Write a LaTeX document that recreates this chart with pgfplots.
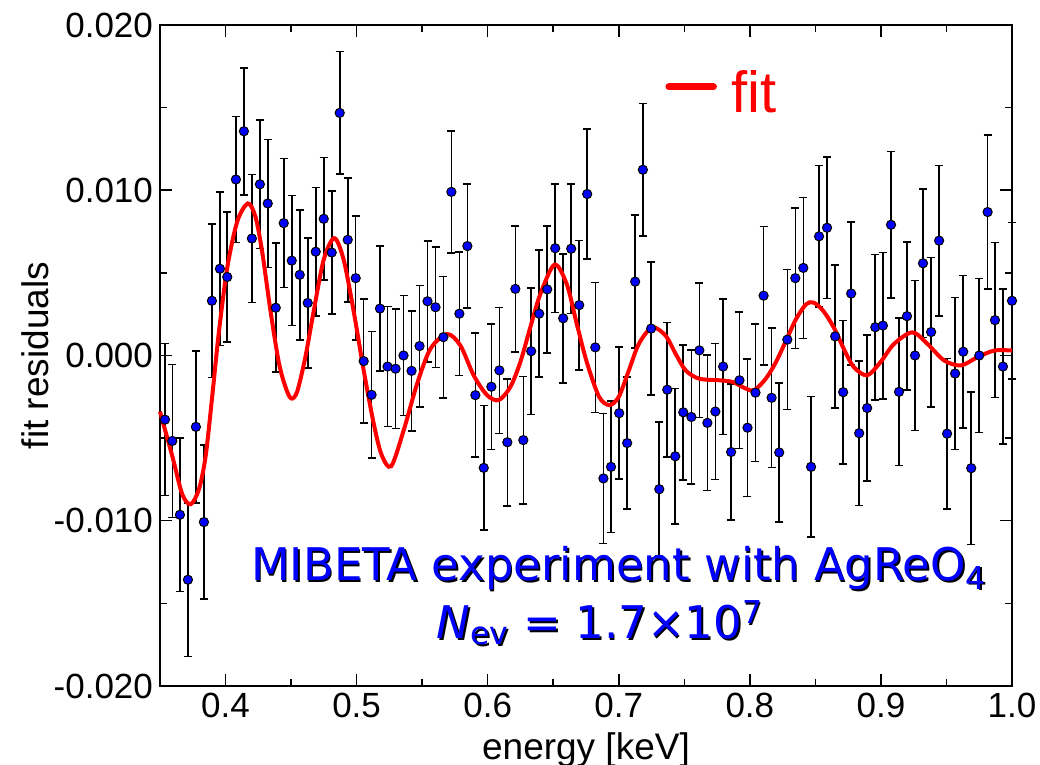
\documentclass[border=0pt]{standalone}
\usepackage{pgfplots}
\pgfplotsset{compat=1.18}
\usepackage{pgfplotstable}
\usepackage{fontspec}
\setmainfont{Liberation Sans}
\newfontfamily\dejavu{DejaVu Sans}

% residuals: energy, residual, error
\pgfplotstableread{
x y e
0.3538 -0.00388 0.00460
0.3594 -0.00517 0.00463
0.3652 -0.00964 0.00463
0.3713 -0.01357 0.00465
0.3774 -0.00432 0.00461
0.3835 -0.01008 0.00466
0.3896 0.00331 0.00463
0.3957 0.00525 0.00465
0.4013 0.00475 0.00394
0.4079 0.01065 0.00381
0.4140 0.01357 0.00384
0.4201 0.00708 0.00388
0.4262 0.01036 0.00388
0.4322 0.00920 0.00388
0.4383 0.00289 0.00390
0.4444 0.00801 0.00390
0.4505 0.00574 0.00393
0.4566 0.00488 0.00393
0.4627 0.00318 0.00394
0.4688 0.00628 0.00388
0.4749 0.00827 0.00370
0.4810 0.00623 0.00373
0.4871 0.01468 0.00371
0.4932 0.00700 0.00375
0.4993 0.00468 0.00375
0.5054 -0.00034 0.00376
0.5114 -0.00238 0.00382
0.5178 0.00284 0.00377
0.5236 -0.00067 0.00363
0.5297 -0.00080 0.00363
0.5358 0.00000 0.00363
0.5419 -0.00093 0.00364
0.5480 0.00057 0.00367
0.5541 0.00328 0.00366
0.5602 0.00292 0.00364
0.5662 0.00111 0.00368
0.5723 0.00990 0.00368
0.5784 0.00253 0.00373
0.5845 0.00662 0.00375
0.5906 -0.00240 0.00376
0.5970 -0.00680 0.00377
0.6028 -0.00189 0.00379
0.6089 -0.00090 0.00381
0.6150 -0.00525 0.00384
0.6211 0.00403 0.00381
0.6272 -0.00512 0.00385
0.6332 0.00026 0.00384
0.6393 0.00253 0.00384
0.6454 0.00400 0.00385
0.6515 0.00649 0.00389
0.6576 0.00225 0.00390
0.6637 0.00646 0.00391
0.6698 0.00305 0.00391
0.6759 0.00977 0.00393
0.6821 0.00049 0.00393
0.6883 -0.00744 0.00394
0.6941 -0.00674 0.00398
0.7003 -0.00349 0.00399
0.7064 -0.00530 0.00400
0.7125 0.00447 0.00402
0.7184 0.01124 0.00400
0.7247 0.00163 0.00403
0.7309 -0.00809 0.00406
0.7370 -0.00207 0.00407
0.7431 -0.00610 0.00410
0.7492 -0.00344 0.00408
0.7554 -0.00372 0.00406
0.7615 0.00031 0.00406
0.7676 -0.00408 0.00410
0.7737 -0.00339 0.00411
0.7796 -0.00067 0.00410
0.7857 -0.00584 0.00413
0.7921 -0.00150 0.00413
0.7982 -0.00437 0.00416
0.8043 -0.00225 0.00417
0.8105 0.00362 0.00419
0.8166 -0.00256 0.00421
0.8224 -0.00587 0.00422
0.8286 0.00096 0.00424
0.8347 0.00468 0.00425
0.8408 0.00530 0.00426
0.8467 -0.00674 0.00426
0.8528 0.00721 0.00429
0.8589 0.00773 0.00429
0.8651 0.00116 0.00432
0.8712 -0.00222 0.00434
0.8773 0.00375 0.00434
0.8834 -0.00470 0.00437
0.8895 -0.00318 0.00442
0.8957 0.00171 0.00439
0.9015 0.00181 0.00443
0.9077 0.00791 0.00444
0.9138 -0.00220 0.00446
0.9199 0.00238 0.00448
0.9260 0.00000 0.00453
0.9321 0.00558 0.00448
0.9383 0.00142 0.00452
0.9444 0.00695 0.00455
0.9505 -0.00473 0.00455
0.9566 -0.00109 0.00459
0.9628 0.00023 0.00460
0.9689 -0.00682 0.00461
0.9750 0.00000 0.00465
0.9814 0.00868 0.00465
0.9870 0.00214 0.00469
0.9931 -0.00067 0.00470
1.0000 0.00331 0.00473
}\resid

% fitted curve
\pgfplotstableread{
x y
0.3500 -0.0034
0.3594 -0.0061
0.3670 -0.0084
0.3734 -0.0090
0.3797 -0.0081
0.3848 -0.0061
0.3898 -0.0025
0.3949 0.0014
0.4013 0.0053
0.4089 0.0081
0.4170 0.0092
0.4228 0.0084
0.4279 0.0063
0.4343 0.0027
0.4406 -0.0004
0.4457 -0.0019
0.4500 -0.0026
0.4546 -0.0022
0.4609 -0.0001
0.4673 0.0027
0.4749 0.0058
0.4830 0.0071
0.4901 0.0058
0.4977 0.0027
0.5054 -0.0009
0.5130 -0.0041
0.5190 -0.0060
0.5264 -0.0067
0.5360 -0.0045
0.5462 -0.0017
0.5563 0.0004
0.5690 0.0013
0.5792 0.0006
0.5893 -0.0012
0.5995 -0.0024
0.6084 -0.0027
0.6173 -0.0019
0.6249 -0.0004
0.6325 0.0017
0.6401 0.0037
0.6510 0.0055
0.6604 0.0043
0.6680 0.0019
0.6756 -0.0004
0.6850 -0.0025
0.6929 -0.0030
0.7000 -0.0025
0.7077 -0.0009
0.7153 0.0007
0.7255 0.0017
0.7357 0.0012
0.7434 0.0001
0.7510 -0.0009
0.7612 -0.0014
0.7765 -0.0015
0.7867 -0.0016
0.7969 -0.0020
0.8033 -0.0021
0.8122 -0.0014
0.8199 -0.0004
0.8276 0.0009
0.8352 0.0022
0.8429 0.0031
0.8487 0.0032
0.8560 0.0027
0.8640 0.0017
0.8717 0.0004
0.8793 -0.0007
0.8895 -0.0012
0.8997 -0.0004
0.9100 0.0007
0.9240 0.0014
0.9355 0.0007
0.9482 -0.0003
0.9610 -0.0006
0.9737 -0.0001
0.9865 0.0003
1.0000 0.0003
}\fitcurve

\begin{document}
\begin{tikzpicture}
\path[use as bounding box] (-80pt,-39.5pt) rectangle (440pt,343pt);
\begin{axis}[
    at={(0,0)}, anchor=south west,
    scale only axis,
    width=426pt, height=330.5pt,
    xmin=0.35, xmax=1.0,
    ymin=-0.02, ymax=0.02,
    clip=false,
    scaled ticks=false,
    xtick={0.4,0.5,0.6,0.7,0.8,0.9,1.0},
    xticklabels={0.4,0.5,0.6,0.7,0.8,0.9,1.0},
    minor xtick={0.35,0.45,0.55,0.65,0.75,0.85,0.95},
    ytick={-0.02,-0.01,0,0.01,0.02},
    yticklabels={-0.020,-0.010,0.000,0.010,0.020},
    minor ytick={-0.015,-0.005,0.005,0.015},
    tick align=inside,
    major tick length=6pt,
    minor tick length=3.5pt,
    every tick/.style={black, line width=0.75pt},
    axis line style={line width=1pt},
    ticklabel style={font=\fontsize{17.5}{21}\selectfont},
    xlabel={energy [keV]},
    ylabel={fit residuals},
    label style={font=\fontsize{18.5}{22}\selectfont},
    xlabel style={at={(axis description cs:0.5,0)}, anchor=center, yshift=-32pt},
    ylabel style={at={(axis description cs:-0.1467,0.5)}, anchor=center},
    legend style={at={(axis cs:0.7353,0.0159)}, anchor=west, draw=none, fill=none,
        inner sep=0pt, font=\fontsize{29}{32}\selectfont, text=red},
    legend image code/.code={
        \draw[red, line width=3.5pt, line cap=round] (1.75pt,0.3em) -- (24pt,0.3em);
        \path (30pt,0.3em);},
]

\addplot[
    only marks,
    forget plot,
    mark=*,
    mark size=2.3pt,
    mark options={fill=blue, draw=black, line width=0.5pt},
    error bars/.cd,
        y dir=both, y explicit,
        error bar style={black, line width=0.8pt},
        error mark options={black, line width=0.8pt, mark size=2pt, rotate=90},
    ] table[x=x, y=y, y error=e] {\resid};
\addplot[
    color=red,
    line width=2pt,
    smooth,
    ] table[x=x, y=y] {\fitcurve};
\addlegendentry{fit}

\node[anchor=base, text=black, font=\dejavu\fontsize{22.5}{27}\selectfont]
    at ([xshift=0.8pt, yshift=-0.8pt]axis cs:0.7002,-0.01362) {MIBETA experiment with AgReO\textsubscript{4}};
\node[anchor=base, text=blue, font=\dejavu\fontsize{22.5}{27}\selectfont]
    at (axis cs:0.7002,-0.01362) {MIBETA experiment with AgReO\textsubscript{4}};
\node[anchor=base, text=black, font=\dejavu\fontsize{22.5}{27}\selectfont]
    at ([xshift=0.8pt, yshift=-0.8pt]axis cs:0.6857,-0.01713) {\textit{N}\textsubscript{ev} = 1.7×10\textsuperscript{7}};
\node[anchor=base, text=blue, font=\dejavu\fontsize{22.5}{27}\selectfont]
    at (axis cs:0.6857,-0.01713) {\textit{N}\textsubscript{ev} = 1.7×10\textsuperscript{7}};
\end{axis}
\end{tikzpicture}
\end{document}
